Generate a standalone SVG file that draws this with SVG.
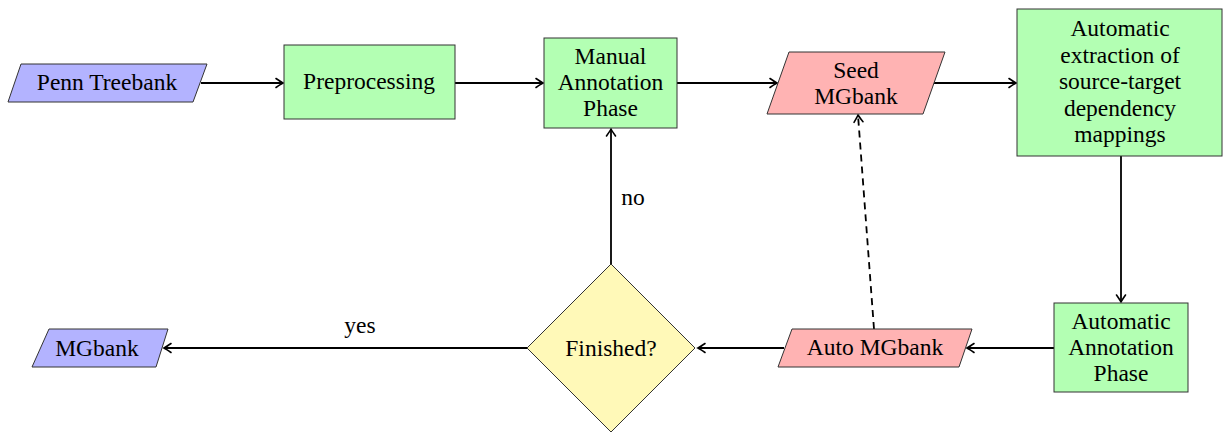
<svg xmlns="http://www.w3.org/2000/svg" width="1223" height="432" viewBox="0 0 1223 432">
<style>
text{font-family:'Liberation Serif','Times New Roman',serif;font-size:23.5px;fill:#000;text-anchor:middle}
.box{stroke:#333;stroke-width:1}
.g{fill:#b3ffb3}.b{fill:#b3b3ff}.r{fill:#ffb3b3}.y{fill:#fff9b8}
.e{stroke:#000;stroke-width:1.8;fill:none}
.d{stroke-dasharray:7,5}
</style>
<defs>
<marker id="ah" markerUnits="userSpaceOnUse" markerWidth="14" markerHeight="14" viewBox="-10 -7 12 14" refX="0" refY="0" orient="auto">
<path d="M-7,-4.5 Q-2,-1 0,0 Q-2,1 -7,4.5" fill="none" stroke="#000" stroke-width="1.6" stroke-linecap="round"/>
</marker>
</defs>
<g id="connectors">
<line class="e" x1="201" y1="83" x2="283" y2="83" marker-end="url(#ah)"/>
<line class="e" x1="455" y1="83" x2="543" y2="83" marker-end="url(#ah)"/>
<line class="e" x1="677" y1="83" x2="777" y2="83" marker-end="url(#ah)"/>
<line class="e" x1="932" y1="83" x2="1016" y2="83" marker-end="url(#ah)"/>
<line class="e" x1="1121" y1="156" x2="1121" y2="302" marker-end="url(#ah)"/>
<line class="e" x1="1054" y1="348" x2="967" y2="348" marker-end="url(#ah)"/>
<line class="e" x1="784" y1="348" x2="698" y2="348" marker-end="url(#ah)"/>
<line class="e" x1="527" y1="348" x2="164" y2="348" marker-end="url(#ah)"/>
<line class="e" x1="611" y1="264" x2="611" y2="129" marker-end="url(#ah)"/>
<line class="e d" x1="874" y1="329" x2="858" y2="115" marker-end="url(#ah)"/>
<text x="360" y="333">yes</text>
<text x="633" y="205">no</text>
</g>
<g id="penn">
<polygon class="box b" points="21,64 207,64 193,102 8,102"/>
<text x="107" y="90">Penn Treebank</text>
</g>
<g id="preprocessing">
<rect class="box g" x="284" y="45" width="171" height="74"/>
<text x="369" y="89">Preprocessing</text>
</g>
<g id="manual">
<rect class="box g" x="544" y="38" width="133" height="90"/>
<text x="610.5" y="64">Manual</text>
<text x="610.5" y="90">Annotation</text>
<text x="610.5" y="116">Phase</text>
</g>
<g id="seed">
<polygon class="box r" points="789,52 945,52 923,114 767,114"/>
<text x="856" y="78">Seed</text>
<text x="856" y="104">MGbank</text>
</g>
<g id="extraction">
<rect class="box g" x="1017" y="9" width="205" height="147"/>
<text x="1120" y="36">Automatic</text>
<text x="1120" y="62.5">extraction of</text>
<text x="1120" y="89">source-target</text>
<text x="1120" y="115.5">dependency</text>
<text x="1120" y="142">mappings</text>
</g>
<g id="autoannot">
<rect class="box g" x="1054" y="303" width="134" height="89"/>
<text x="1121" y="329">Automatic</text>
<text x="1121" y="355">Annotation</text>
<text x="1121" y="381">Phase</text>
</g>
<g id="automg">
<polygon class="box r" points="792,329 972,329 959,367 778,367"/>
<text x="875" y="355">Auto MGbank</text>
</g>
<g id="finished">
<polygon class="box y" points="611,264 695,348 611,432 527,348"/>
<text x="611" y="356">Finished?</text>
</g>
<g id="mgbank">
<polygon class="box b" points="49,329 168,329 156,367 32,367"/>
<text x="97" y="356">MGbank</text>
</g>
</svg>
